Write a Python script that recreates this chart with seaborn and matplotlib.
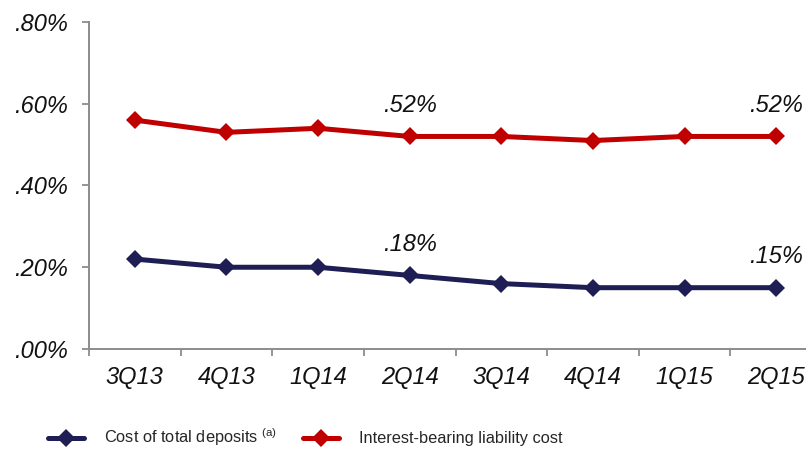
import matplotlib
matplotlib.use("Agg")
import matplotlib.pyplot as plt
import seaborn as sns
import pandas as pd
from matplotlib.ticker import FixedLocator, FuncFormatter
from matplotlib.lines import Line2D

quarters = ["3Q13", "4Q13", "1Q14", "2Q14", "3Q14", "4Q14", "1Q15", "2Q15"]
deposit_cost = [0.22, 0.20, 0.20, 0.18, 0.16, 0.15, 0.15, 0.15]
liability_cost = [0.56, 0.53, 0.54, 0.52, 0.52, 0.51, 0.52, 0.52]
labelled_quarters = ["2Q14", "2Q15"]
y_ticks = [0.0, 0.2, 0.4, 0.6, 0.8]

deposit_name = "Cost of total deposits"
liability_name = "Interest-bearing liability cost"
navy = "#1E1E55"
red = "#C00000"
axis_grey = "#8C8C8C"

sns.set_theme(style="white")
plt.rcParams["font.family"] = ["Liberation Sans", "DejaVu Sans"]
plt.rcParams["mathtext.fontset"] = "custom"
plt.rcParams["mathtext.rm"] = "Liberation Sans"

df = pd.DataFrame({
    "quarter": quarters * 2,
    "pos": list(range(len(quarters))) * 2,
    "rate": deposit_cost + liability_cost,
    "series": [deposit_name] * len(quarters) + [liability_name] * len(quarters),
})

fig = plt.figure(figsize=(8.06, 4.49), dpi=100)
ax = fig.add_axes([89 / 806, 100 / 449, (822 - 89) / 806, 327 / 449])

sns.lineplot(
    data=df, x="pos", y="rate", hue="series", style="series",
    palette={deposit_name: navy, liability_name: red},
    markers={deposit_name: "D", liability_name: "D"},
    dashes=False, linewidth=3.6, markersize=9, markeredgewidth=0,
    legend=False, ax=ax,
)

ax.set_xlim(-0.5, len(quarters) - 0.5)
ax.set_ylim(0, 0.8)
ax.set_xlabel("")
ax.set_ylabel("")

# category labels sit between boundary ticks
ax.xaxis.set_major_locator(FixedLocator([i - 0.5 for i in range(len(quarters) + 1)]))
ax.xaxis.set_major_formatter(FuncFormatter(lambda v, p: ""))
ax.xaxis.set_minor_locator(FixedLocator(list(range(len(quarters)))))
ax.xaxis.set_minor_formatter(FuncFormatter(lambda v, p: quarters[int(round(v))]))
ax.tick_params(axis="x", which="major", direction="out", length=5, width=1.3,
               color=axis_grey, bottom=True)
ax.tick_params(axis="x", which="minor", length=0, pad=12, labelsize=17)

ax.yaxis.set_major_locator(FixedLocator(y_ticks))
ax.yaxis.set_major_formatter(FuncFormatter(lambda v, p: f".{round(v * 100):02d}%"))
ax.tick_params(axis="y", direction="out", length=5, width=1.3, color=axis_grey,
               left=True, pad=10, labelsize=17)

for lab in ax.get_xticklabels(minor=True) + ax.get_yticklabels():
    lab.set_fontstyle("italic")
    lab.set_color("#111111")

for side in ["top", "right"]:
    ax.spines[side].set_visible(False)
for side in ["left", "bottom"]:
    ax.spines[side].set_color(axis_grey)
    ax.spines[side].set_linewidth(1.4)

for q in labelled_quarters:
    i = quarters.index(q)
    for series in (deposit_cost, liability_cost):
        v = series[i]
        ax.annotate(f".{round(v * 100):02d}%", (i, v), xytext=(0, 14),
                    textcoords="offset points", ha="center", va="bottom",
                    fontsize=17, fontstyle="italic", color="#111111")

handles = [
    Line2D([], [], color=navy, lw=3.6, marker="D", markersize=9, markeredgewidth=0),
    Line2D([], [], color=red, lw=3.6, marker="D", markersize=9, markeredgewidth=0),
]
labels = [deposit_name + r" $^{\mathrm{(a)}}$", liability_name]
fig.legend(handles, labels, loc="lower left", bbox_to_anchor=(48 / 806, 0.5 / 449),
           ncol=2, frameon=False, borderpad=0, borderaxespad=0,
           handlelength=2.2, handletextpad=1.2, columnspacing=1.6,
           prop={"family": ["Liberation Sans"], "size": 11.8})

fig.savefig("out.png", dpi=100)
